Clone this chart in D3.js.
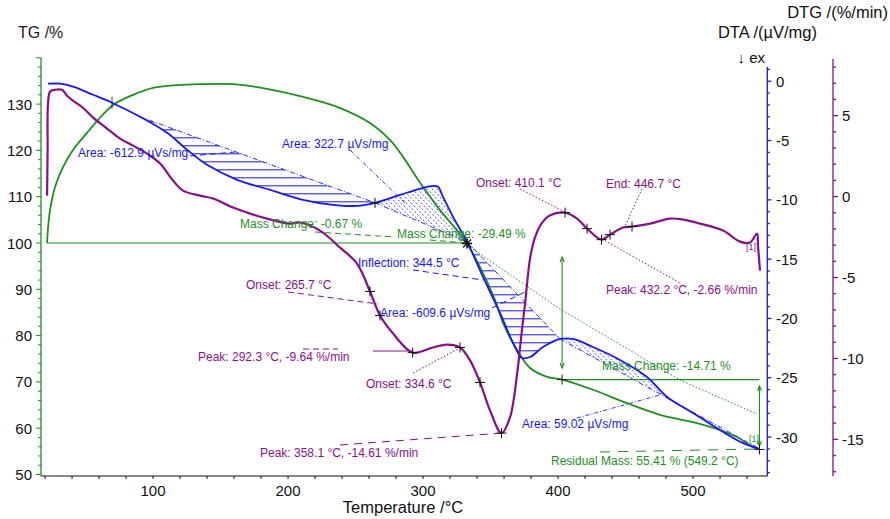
<!DOCTYPE html>
<html><head><meta charset="utf-8">
<script src="https://cdn.jsdelivr.net/npm/d3@7"></script>
<style>body{margin:0;background:#fff;} svg{display:block;font-family:"Liberation Sans",Arial,sans-serif;}</style>
</head><body><svg id="c" width="890" height="519"></svg>
<script>
// ---------- data ----------
const tgT=[21.5,22.2,23.7,27.4,33.3,40.7,51.1,59.3,70.4,85.2,100.0,117.8,134.8,159.3,184.4,208.9,236.3,260.7,275.6,285.2,297.8,312.6,323.7,332.6,342.2,353.3,359.3,369.6,379.3,391.9,403.0,425.9,451.1,475.6,500.0,520.0,532.6,544.4,549.2];
const tgV=[100.0,103.2,107.1,112.1,116.4,120.1,123.8,126.6,129.8,132.0,133.5,134.1,134.3,134.3,133.3,131.7,129.4,125.9,122.2,118.6,113.0,107.1,103.2,99.9,94.8,87.7,82.7,76.9,73.0,71.1,70.5,68.3,65.4,62.9,61.3,59.6,58.1,55.9,55.41];
const dtaT=[22.2,31.1,40.7,55.6,69.6,90.4,110.4,125.2,140.0,162.2,186.7,211.1,233.3,251.1,264.4,283.0,300.0,307.4,311.1,314.8,322.2,332.6,344.4,357.0,366.7,373.3,379.3,388.9,401.5,411.1,425.9,445.9,465.9,480.7,500.0,520.0,537.0,548.5];
const dtaV=[-0.21,-0.21,-0.46,-1.14,-1.81,-3.00,-4.35,-5.78,-7.05,-8.31,-9.16,-10.0,-10.42,-10.51,-10.25,-9.58,-8.99,-8.82,-8.90,-9.75,-11.43,-13.54,-16.50,-19.54,-22.07,-23.33,-23.25,-22.41,-21.73,-21.73,-22.41,-23.50,-24.94,-26.62,-27.97,-29.41,-30.51,-30.95];
const dtgT=[21.5,21.9,22.2,23.7,27.4,32.6,36.3,40.7,48.1,55.6,65.9,75.6,85.2,95.6,105.2,114.8,122.2,134.8,144.4,159.3,171.9,184.4,201.5,208.9,223.7,238.5,251.1,260.7,268.1,277.8,292.3,307.4,317.8,327.4,334.8,342.2,349.6,358.1,364.4,369.6,371.5,373.3,375.6,379.3,383.0,386.7,390.4,394.1,405.2,414.1,421.5,432.2,438.5,448.1,454.8,468.1,483.0,492.6,505.2,522.2,534.8,542.2,547.4,548.1,549.6];
const dtgV=[0.06,2.84,5.74,6.48,6.60,6.60,6.23,5.93,5.49,4.88,4.20,3.58,3.15,2.65,2.04,0.99,0.37,0.06,-0.12,-0.68,-1.05,-1.36,-1.67,-1.60,-2.10,-3.15,-4.14,-5.86,-7.35,-8.46,-9.64,-9.32,-9.14,-9.32,-10.12,-11.48,-13.21,-14.61,-13.64,-11.0,-9.6,-8.2,-6.6,-3.8,-2.5,-1.8,-1.4,-1.15,-0.99,-1.36,-1.98,-2.66,-2.35,-1.91,-1.85,-1.67,-1.36,-1.42,-1.67,-2.10,-2.78,-2.84,-2.28,-3.02,-4.57];

const xTicks=[100,200,300,400,500];
const tgTicks=[50,60,70,80,90,100,110,120,130];
const dtaTicks=[0,-5,-10,-15,-20,-25,-30];
const dtgTicks=[5,0,-5,-10,-15];

// DTA peak areas: [start T, end T, hatch style]
const areaStart=[90.4,264.4,332.6,401.5];
const areaEnd=[264.4,332.6,401.5,548.5];
const areaHatch=["h","d","h","d"];
const dtgMarkT=[260.7,268.1,292.3,327.4,342.2,358.1,405.2,421.5,432.2,438.5,454.8];
const tgMarkT=[403.0,549.2];
const dtaMarkT=[264.4];
const centerMarkT=332.6;

// ---------- layout ----------
const C={green:"#1f8f1f",blue:"#1717f0",purple:"#861186",black:"#111"};
const svg=d3.select("#c");
const x=d3.scaleLinear().domain([17,555]).range([41,767.3]);
const yTG=d3.scaleLinear().domain([50,140]).range([474.5,57.8]);
const yDTA=d3.scaleLinear().domain([-33.2,1.2]).range([475,67]);
const yDTG=d3.scaleLinear().domain([-17.2,8.5]).range([475,59]);
const interp=(Ts,Vs,t)=>{for(let i=1;i<Ts.length;i++){if(t<=Ts[i]){const f=(t-Ts[i-1])/(Ts[i]-Ts[i-1]);return Vs[i-1]+f*(Vs[i]-Vs[i-1]);}}return Vs[Vs.length-1];};
const tg=tgT.map((t,i)=>[t,tgV[i]]), dta=dtaT.map((t,i)=>[t,dtaV[i]]), dtg=dtgT.map((t,i)=>[t,dtgV[i]]);
const line=(ys)=>d3.line().x(d=>x(d[0])).y(d=>ys(d[1])).curve(d3.curveCatmullRom.alpha(0.5));

// ---------- axes ----------
const X0=41,X1=767.3,YB=476;
svg.append("line").attr("x1",X0).attr("x2",X1).attr("y1",YB).attr("y2",YB).attr("stroke",C.black);
const xMinor=d3.range(20,555,20);
svg.append("g").selectAll("line").data(xMinor).join("line").attr("x1",d=>x(d)).attr("x2",d=>x(d)).attr("y1",YB).attr("y2",YB+3).attr("stroke",C.black);
svg.append("g").selectAll("text").data(xTicks).join("text").attr("x",d=>x(d)).attr("y",496).attr("text-anchor","middle").attr("font-size",15).attr("fill",C.black).text(d=>d);
svg.append("text").attr("x",403).attr("y",513).attr("text-anchor","middle").attr("font-size",16.5).attr("fill",C.black).text("Temperature /°C");

// TG axis (left)
svg.append("line").attr("x1",X0).attr("x2",X0).attr("y1",yTG(140)).attr("y2",YB).attr("stroke",C.green).attr("stroke-width",1.3);
svg.append("g").selectAll("line").data(d3.range(50,141,2)).join("line").attr("x1",d=>d%10===0?X0-5:X0-3).attr("x2",X0).attr("y1",d=>yTG(d)).attr("y2",d=>yTG(d)).attr("stroke",C.green);
svg.append("g").selectAll("text").data(tgTicks).join("text").attr("x",32).attr("y",d=>yTG(d)+5.5).attr("text-anchor","end").attr("font-size",15).attr("fill",C.black).text(d=>d);
svg.append("text").attr("x",18).attr("y",38).attr("font-size",16).attr("fill","#2a1420").text("TG /%");

// DTA axis
const XA=767.3;
svg.append("line").attr("x1",XA).attr("x2",XA).attr("y1",yDTA(1.2)).attr("y2",YB).attr("stroke",C.blue).attr("stroke-width",1.3);
svg.append("g").selectAll("line").data(d3.range(-33,2,1)).join("line").attr("x1",XA).attr("x2",d=>d%5===0?XA+4:XA+2.5).attr("y1",d=>yDTA(d)).attr("y2",d=>yDTA(d)).attr("stroke",C.blue).attr("stroke-width",1.3);
svg.append("g").selectAll("text").data(dtaTicks).join("text").attr("x",776).attr("y",d=>yDTA(d)+5.5).attr("font-size",15).attr("fill",C.black).text(d=>d===0?"0":"-"+Math.abs(d));
svg.append("text").attr("x",817).attr("y",38).attr("text-anchor","end").attr("font-size",16.5).attr("fill",C.black).text("DTA /(µV/mg)");
svg.append("text").attr("x",765).attr("y",63).attr("text-anchor","end").attr("font-size",15).attr("fill",C.black).text("↓ ex");

// DTG axis
const XG=833;
svg.append("line").attr("x1",XG).attr("x2",XG).attr("y1",yDTG(8.5)).attr("y2",YB).attr("stroke",C.purple).attr("stroke-width",1.3);
svg.append("g").selectAll("line").data(d3.range(-17,9,1)).join("line").attr("x1",XG).attr("x2",d=>d%5===0?XG+5:XG+3).attr("y1",d=>yDTG(d)).attr("y2",d=>yDTG(d)).attr("stroke",C.purple).attr("stroke-width",1.3);
svg.append("g").selectAll("text").data(dtgTicks).join("text").attr("x",842).attr("y",d=>yDTG(d)+5.5).attr("font-size",15).attr("fill",C.black).text(d=>d===0?"0":(d<0?"-"+Math.abs(d):d));
svg.append("text").attr("x",888).attr("y",18).attr("text-anchor","end").attr("font-size",16.5).attr("fill",C.black).text("DTG /(%/min)");

// ---------- hatched DTA areas ----------
const defs=svg.append("defs");
const gh=svg.append("g");
areaStart.forEach((t0,k)=>{
  const t1=areaEnd[k];
  const pts=[[t0,interp(dtaT,dtaV,t0)]];
  dtaT.forEach((t,i)=>{if(t>t0&&t<t1)pts.push([t,dtaV[i]]);});
  pts.push([t1,interp(dtaT,dtaV,t1)]);
  const px=pts.map(p=>[x(p[0]),yDTA(p[1])]);
  const id="clip"+k;
  defs.append("clipPath").attr("id",id).append("path").attr("d",d3.line()(px)+"Z");
  const xs=px.map(p=>p[0]), ys=px.map(p=>p[1]);
  const xa=d3.min(xs),xb=d3.max(xs),ya=d3.min(ys),yb=d3.max(ys);
  const g=gh.append("g").attr("clip-path",`url(#${id})`);
  if(areaHatch[k]==="h"){
    for(let yy=ya+5;yy<yb;yy+=8) g.append("line").attr("x1",xa).attr("x2",xb).attr("y1",yy).attr("y2",yy).attr("stroke",C.blue).attr("stroke-width",1);
  } else {
    for(let c=xa-(yb-ya);c<xb;c+=5) g.append("line").attr("x1",c).attr("x2",c+(yb-ya)).attr("y1",ya).attr("y2",yb).attr("stroke",C.blue).attr("stroke-width",0.8).attr("stroke-dasharray","2,2");
  }
  gh.append("line").attr("x1",px[0][0]).attr("y1",px[0][1]).attr("x2",px[px.length-1][0]).attr("y2",px[px.length-1][1])
    .attr("stroke",C.blue).attr("stroke-width",0.9).attr("stroke-dasharray","5,2,1,2");
});

// ---------- leader / construction lines ----------
const leaders=[
 [190,156,235,152,C.blue,"6,4",1],
 [350,150,405,203,C.blue,"4,2,1,2",0.9],
 [413,270,483,280,C.blue,"6,4",1],
 [492,308,527,291,C.blue,"6,4",1],
 [577,418,660,395,C.blue,"4,2,1,2",0.9],
 [315,232,395,237,C.green,"6,4",1],
 [430,240,467,243,C.green,"6,4",1],
 [600,452,757,449,C.green,"10,8",1],
 [288,292,378,304,C.purple,"6,4",1],
 [303,349,338,349,C.purple,"6,4",1],
 [373,351,412,351,C.purple,null,1.2],
 [413,373,460,348,C.purple,"1.5,2",1],
 [340,445,502,433,C.purple,"8,6",1],
 [520,189,565,212,C.purple,"1.5,2",1],
 [642,189,625,226,C.purple,"1.5,2",1],
 [602,239,680,283,C.purple,"1.5,2",1]
];
svg.append("g").selectAll("line").data(leaders).join("line")
 .attr("x1",d=>d[0]).attr("y1",d=>d[1]).attr("x2",d=>d[2]).attr("y2",d=>d[3])
 .attr("stroke",d=>d[4]).attr("stroke-dasharray",d=>d[5]).attr("stroke-width",d=>d[6]);
svg.append("path").attr("d","M467,245L560,309L680,380L757,414").attr("fill","none").attr("stroke",C.green).attr("stroke-dasharray","1.5,2");

// green step lines and arrows
svg.append("line").attr("x1",x(tgT[0])).attr("x2",x(centerMarkT)).attr("y1",yTG(100)).attr("y2",yTG(100)).attr("stroke",C.green).attr("stroke-width",1.1);
const tg403=interp(tgT,tgV,tgMarkT[0]);
svg.append("line").attr("x1",x(tgMarkT[0])).attr("x2",x(tgMarkT[1])).attr("y1",yTG(tg403)).attr("y2",yTG(tg403)).attr("stroke",C.green).attr("stroke-width",1.1);
function arrow(xx,y1,y2){
  const g=svg.append("g").attr("stroke",C.green).attr("stroke-width",1.1).attr("fill","none");
  g.append("line").attr("x1",xx).attr("x2",xx).attr("y1",y1).attr("y2",y2);
  g.append("path").attr("d",`M${xx-2},${y1+5}L${xx},${y1}L${xx+2},${y1+5}`);
  g.append("path").attr("d",`M${xx-2},${y2-5}L${xx},${y2}L${xx+2},${y2-5}`);
}
arrow(x(tgMarkT[0]),257,368);
arrow(x(tgMarkT[1]),386,446);

// ---------- curves ----------
svg.append("path").datum(tg).attr("d",line(yTG)).attr("fill","none").attr("stroke",C.green).attr("stroke-width",1.8);
svg.append("path").datum(dta).attr("d",line(yDTA)).attr("fill","none").attr("stroke",C.blue).attr("stroke-width",1.8);
svg.append("path").datum(dtg).attr("d",line(yDTG)).attr("fill","none").attr("stroke",C.purple).attr("stroke-width",2.2);

// ---------- markers ----------
function cross(cx,cy,s,w){
  const g=svg.append("g").attr("stroke",C.black).attr("stroke-width",w||1);
  g.append("line").attr("x1",cx-s).attr("x2",cx+s).attr("y1",cy).attr("y2",cy);
  g.append("line").attr("x1",cx).attr("x2",cx).attr("y1",cy-s).attr("y2",cy+s);
}
dtgMarkT.forEach(t=>cross(x(t),yDTG(interp(dtgT,dtgV,t)),5));
tgMarkT.forEach(t=>cross(x(t),yTG(interp(tgT,tgV,t)),5));
dtaMarkT.forEach(t=>cross(x(t),yDTA(interp(dtaT,dtaV,t)),5));
{const cx=x(centerMarkT),cy=yTG(interp(tgT,tgV,centerMarkT));
 cross(cx,cy,5,1.6);
 svg.append("g").attr("stroke",C.black).attr("stroke-width",1.3).call(g=>{g.append("line").attr("x1",cx-4).attr("y1",cy-4).attr("x2",cx+4).attr("y2",cy+4);g.append("line").attr("x1",cx-4).attr("y1",cy+4).attr("x2",cx+4).attr("y2",cy-4);});}
{const t=69.6,cx=x(t),cy=yDTA(interp(dtaT,dtaV,t));svg.append("line").attr("x1",cx).attr("x2",cx).attr("y1",cy-6).attr("y2",cy+6).attr("stroke",C.black).attr("stroke-width",0.8);}

// ---------- annotation labels ----------
const labels=[
 ["Area: -612.9 µVs/mg",78,157,C.blue],
 ["Area: 322.7 µVs/mg",282,148,C.blue],
 ["Mass Change: -0.67 %",240,228,C.green],
 ["Mass Change: -29.49 %",397,238,C.green],
 ["Inflection: 344.5 °C",358,267,C.blue],
 ["Onset: 410.1 °C",476,187,C.purple],
 ["End: 446.7 °C",606,188,C.purple],
 ["Peak: 432.2 °C, -2.66 %/min",606,294,C.purple],
 ["Onset: 265.7 °C",246,289,C.purple],
 ["Area: -609.6 µVs/mg",380,317,C.blue],
 ["Peak: 292.3 °C, -9.64 %/min",198,361,C.purple],
 ["Onset: 334.6 °C",366,388,C.purple],
 ["Peak: 358.1 °C, -14.61 %/min",260,457,C.purple],
 ["Mass Change: -14.71 %",602,370,C.green],
 ["Area: 59.02 µVs/mg",522,428,C.blue],
 ["Residual Mass: 55.41 % (549.2 °C)",551,465,C.green]
];
svg.append("g").selectAll("text").data(labels).join("text")
 .attr("x",d=>d[1]).attr("y",d=>d[2]).attr("fill",d=>d[3]).attr("font-size",12).text(d=>d[0]);
svg.append("text").attr("x",746).attr("y",250).attr("font-size",9).attr("fill",C.purple).text("[1]");
svg.append("text").attr("x",749).attr("y",442).attr("font-size",9).attr("fill",C.green).text("[1]");
</script></body></html>
